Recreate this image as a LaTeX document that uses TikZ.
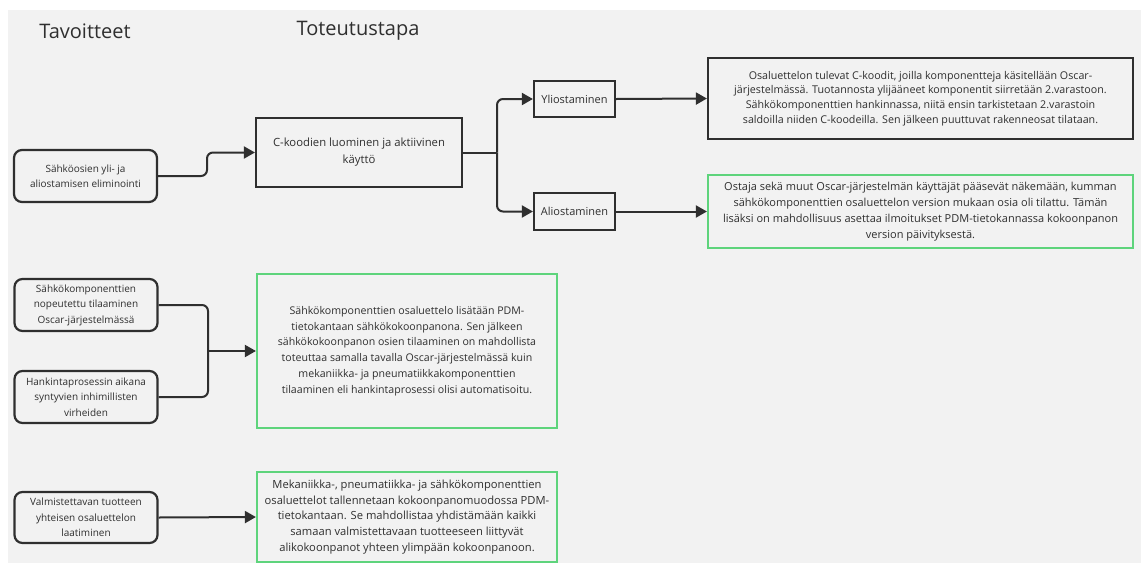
\documentclass[tikz,border=0pt]{standalone}
\usepackage{fontspec}
\setmainfont{Open Sans}
\usetikzlibrary{arrows.meta}
\definecolor{bgg}{HTML}{F2F2F2}
\definecolor{ink}{HTML}{2F2F2F}
\definecolor{grn}{HTML}{5ED47C}
\tikzset{
  every node/.style={text=ink, font=\fontsize{10}{15.5}\selectfont, align=center, inner sep=0pt},
  goal/.style={draw=ink, line width=2.2pt, rounded corners=8pt, minimum width=143pt},
  plain/.style={draw=ink, line width=2.2pt},
  greenbox/.style={draw=grn, line width=2.2pt},
  conn/.style={draw=ink, line width=2pt, rounded corners=6pt, -{Triangle[length=11pt,width=12pt]}},
  connplain/.style={draw=ink, line width=2pt, rounded corners=6pt},
  title/.style={font=\fontsize{20}{24}\selectfont, text=ink}
}
\begin{document}
\begin{tikzpicture}[x=1pt,y=-1pt]
\useasboundingbox (0,0) rectangle (1141,563);
\fill[white] (0,0) rectangle (1141,563);
\fill[bgg] (8,10) rectangle (1141,563);

\node[title] (t1) at (85,31) {Tavoitteet};
\node[title] (t2) at (358,31) {Toteutustapa};

% left goals
\node[goal, minimum height=52pt] (a) at (85.5,176) {Sähköosien yli- ja\\aliostamisen eliminointi};
\node[goal, minimum height=52pt] (s) at (86,305) {Sähkökomponenttien\\nopeutettu tilaaminen\\Oscar-järjestelmässä};
\node[goal, minimum height=52pt] (h) at (86,397) {Hankintaprosessin aikana\\syntyvien inhimillisten\\virheiden};
\node[goal, minimum height=51pt] (v) at (86,517.5) {Valmistettavan tuotteen\\yhteisen osaluettelon\\laatiminen};

% middle
\node[plain, minimum width=206pt, minimum height=69pt, font=\fontsize{11.3}{17}\selectfont] (c) at (359,152.5) {C-koodien luominen ja aktiivinen\\käyttö};
\node[plain, minimum width=81pt, minimum height=36pt, font=\fontsize{11}{14}\selectfont] (y) at (574.5,99) {Yliostaminen};
\node[plain, minimum width=81pt, minimum height=37pt, font=\fontsize{11}{14}\selectfont] (al) at (574.5,211.5) {Aliostaminen};

% right
\node[plain, minimum width=425pt, minimum height=81pt, font=\fontsize{10.7}{14.8}\selectfont] (tb) at (920.5,98.5) {Osaluettelon tulevat C-koodit, joilla komponentteja käsitellään Oscar-\\järjestelmässä. Tuotannosta ylijääneet komponentit siirretään 2.varastoon.\\Sähkökomponenttien hankinnassa, niitä ensin tarkistetaan 2.varastoin\\saldoilla niiden C-koodeilla. Sen jälkeen puuttuvat rakenneosat tilataan.};
\node[greenbox, minimum width=425pt, minimum height=73pt, font=\fontsize{11}{16}\selectfont] (g1) at (920.5,211.5) {Ostaja sekä muut Oscar-järjestelmän käyttäjät pääsevät näkemään, kumman\\sähkökomponenttien osaluettelon version mukaan osia oli tilattu. Tämän\\lisäksi on mahdollisuus asettaa ilmoitukset PDM-tietokannassa kokoonpanon\\version päivityksestä.};
\node[greenbox, minimum width=300pt, minimum height=154pt, font=\fontsize{10.6}{15.7}\selectfont] (g2) at (407,351) {Sähkökomponenttien osaluettelo lisätään PDM-\\tietokantaan sähkökokoonpanona. Sen jälkeen\\sähkökokoonpanon osien tilaaminen on mahdollista\\toteuttaa samalla tavalla Oscar-järjestelmässä kuin\\mekaniikka- ja pneumatiikkakomponenttien\\tilaaminen eli hankintaprosessi olisi automatisoitu.};
\node[greenbox, minimum width=300pt, minimum height=90pt, font=\fontsize{11.2}{15.7}\selectfont] (g3) at (407,517) {Mekaniikka-, pneumatiikka- ja sähkökomponenttien\\osaluettelot tallennetaan kokoonpanomuodossa PDM-\\tietokantaan. Se mahdollistaa yhdistämään kaikki\\samaan valmistettavaan tuotteeseen liittyvät\\alikokoonpanot yhteen ylimpään kokoonpanoon.};

% connectors
\draw[conn] (a.east) -| (207,152.5) -- (c.west);
\coordinate (br) at (497,152.5);
\draw[connplain] (c.east) -- (br);
\draw[conn] (br) |- (y.west);
\draw[conn] (br) |- (al.west);
\draw[conn] (y.east) -- (tb.west);
\draw[conn] (al.east) -- (g1.west);
\coordinate (mg) at (208,351);
\draw[connplain] (s.east) -| (mg);
\draw[connplain] (h.east) -| (mg);
\draw[conn] (mg) -- (g2.west);
\draw[conn] (v.east) -- (g3.west);
\end{tikzpicture}
\end{document}
